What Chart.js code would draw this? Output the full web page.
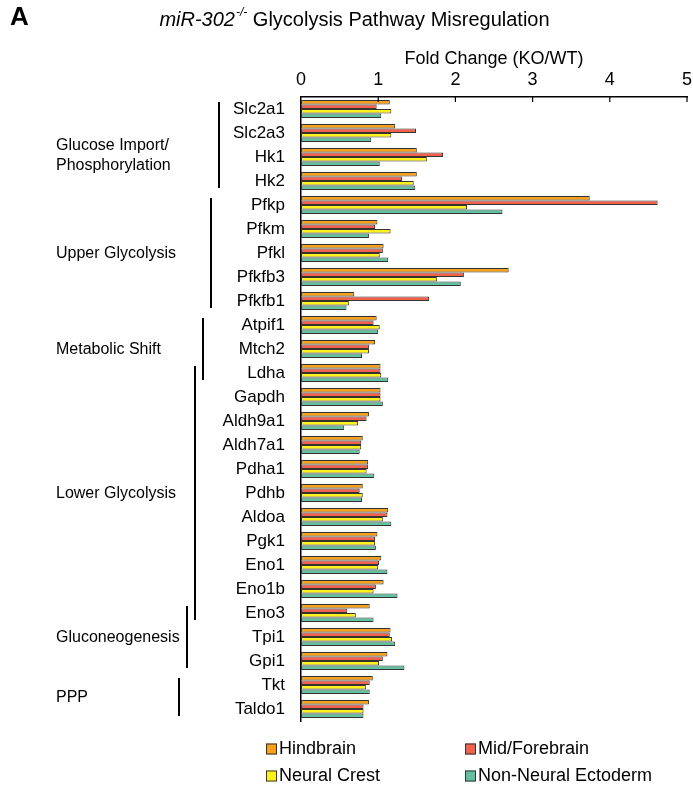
<!DOCTYPE html>
<html>
<head>
<meta charset="utf-8">
<script src="https://cdn.jsdelivr.net/npm/chart.js@4.4.0/dist/chart.umd.min.js"></script>
<style>
  html, body { margin: 0; padding: 0; background: #fff; }
  #wrap { width: 693px; height: 790px; }
</style>
</head>
<body>
<div id="wrap"><canvas id="myChart" width="693" height="790"></canvas></div>
<script>
// genes, top to bottom
const genes = ['Slc2a1', 'Slc2a3', 'Hk1', 'Hk2', 'Pfkp', 'Pfkm', 'Pfkl', 'Pfkfb3', 'Pfkfb1',
  'Atpif1', 'Mtch2', 'Ldha', 'Gapdh', 'Aldh9a1', 'Aldh7a1', 'Pdha1', 'Pdhb', 'Aldoa',
  'Pgk1', 'Eno1', 'Eno1b', 'Eno3', 'Tpi1', 'Gpi1', 'Tkt', 'Taldo1']

const hindbrain = [1.15, 1.22, 1.50, 1.50, 3.74, 0.99, 1.07, 2.69, 0.69,
  0.98, 0.96, 1.03, 1.03, 0.88, 0.80, 0.87, 0.80, 1.13,
  0.99, 1.04, 1.07, 0.89, 1.16, 1.12, 0.93, 0.88]
const midForebrain = [0.98, 1.49, 1.84, 1.31, 4.62, 0.96, 1.06, 2.11, 1.66,
  0.94, 0.88, 1.03, 1.03, 0.85, 0.78, 0.87, 0.76, 1.12,
  0.96, 1.01, 0.97, 0.60, 1.15, 1.06, 0.89, 0.81]
const neuralCrest = [1.17, 1.17, 1.63, 1.46, 2.15, 1.16, 1.02, 1.76, 0.62,
  1.02, 0.88, 1.04, 1.03, 0.74, 0.78, 0.85, 0.80, 1.06,
  0.96, 1.00, 0.94, 0.71, 1.18, 1.01, 0.84, 0.81]
const nonNeural = [1.04, 0.91, 1.02, 1.48, 2.61, 0.88, 1.13, 2.07, 0.59,
  1.00, 0.79, 1.13, 1.06, 0.56, 0.76, 0.95, 0.79, 1.17,
  0.97, 1.12, 1.25, 0.94, 1.22, 1.34, 0.89, 0.81]

const xTicks = [0, 1, 2, 3, 4, 5]

// pathway groups (first/last gene index)
const groupNames = [['Glucose Import/', 'Phosphorylation'], ['Upper Glycolysis'], ['Metabolic Shift'],
  ['Lower Glycolysis'], ['Gluconeogenesis'], ['PPP']]
const groupFirst = [0, 4, 9, 11, 21, 24]
const groupLast = [3, 8, 11, 21, 23, 25]

const FONT = "'Liberation Sans', Arial, sans-serif"

let decor = {
  id: 'decor',
  afterDraw(chart) {
    const ctx = chart.ctx
    const x = chart.scales.x
    const y = chart.scales.y
    const top = chart.chartArea.top
    ctx.save()
    ctx.fillStyle = '#000'
    ctx.strokeStyle = '#000'

    // inward tick marks on the top axis
    ctx.lineWidth = 1.2
    x.ticks.forEach(t => {
      if (t.value === 0) return
      let px = x.getPixelForValue(t.value)
      ctx.beginPath()
      ctx.moveTo(px, top)
      ctx.lineTo(px, top + 5)
      ctx.stroke()
    })

    // panel letter + title
    ctx.textBaseline = 'middle'
    ctx.textAlign = 'left'
    ctx.font = 'bold 26px ' + FONT
    ctx.fillText('A', 10, 18)

    let p1 = 'miR-302', p2 = '-/-', p3 = ' Glycolysis Pathway Misregulation'
    ctx.font = 'italic 20px ' + FONT
    let w1 = ctx.measureText(p1).width
    ctx.font = 'italic 12px ' + FONT
    let w2 = ctx.measureText(p2).width
    ctx.font = '20px ' + FONT
    let w3 = ctx.measureText(p3).width
    let sx = 354 - (w1 + w2 + w3) / 2
    ctx.font = 'italic 20px ' + FONT
    ctx.fillText(p1, sx, 20)
    ctx.font = 'italic 12px ' + FONT
    ctx.fillText(p2, sx + w1 + 1, 13)
    ctx.font = '20px ' + FONT
    ctx.fillText(p3, sx + w1 + w2 + 1, 20)

    // group brackets and labels
    ctx.font = '16px ' + FONT
    ctx.lineWidth = 2
    groupNames.forEach((name, i) => {
      let y0 = y.getPixelForValue(groupFirst[i])
      let y1 = y.getPixelForValue(groupLast[i])
      let bx = 219 - 8 * i
      ctx.beginPath()
      ctx.moveTo(bx, y0 - 7)
      ctx.lineTo(bx, y1 + 7)
      ctx.stroke()
      let ly = (y0 + y1) / 2
      name.forEach((line, j) => ctx.fillText(line, 56, ly + 1 + j * 20))
    })

    // legend, 2 columns
    ctx.font = '18px ' + FONT
    ctx.lineWidth = 1
    chart.data.datasets.forEach((ds, i) => {
      let lx = i % 2 === 0 ? 266 : 465
      let ly = i < 2 ? 749 : 776
      ctx.fillStyle = ds.backgroundColor
      ctx.fillRect(lx, ly - 5.5, 11, 11)
      ctx.strokeStyle = '#333'
      ctx.strokeRect(lx + 0.5, ly - 5, 10, 10)
      ctx.fillStyle = '#000'
      ctx.fillText(ds.label, lx + 13, ly)
    })
    ctx.restore()
  }
}

let plot = () => {
  const ctx = document.getElementById('myChart')
  const mk = (label, data, color) => ({
    label: label,
    data: data,
    backgroundColor: color,
    borderColor: '#333',
    borderWidth: 1,
    borderSkipped: false,
    categoryPercentage: 0.76,
    barPercentage: 1.0
  })
  const dataset = {
    labels: genes,
    datasets: [
      mk('Hindbrain', hindbrain, '#F7A01C'),
      mk('Mid/Forebrain', midForebrain, '#F2614B'),
      mk('Neural Crest', neuralCrest, '#FFF21C'),
      mk('Non-Neural Ectoderm', nonNeural, '#62C2A0')
    ]
  }
  const config = {
    type: 'bar',
    data: dataset,
    plugins: [decor],
    options: {
      indexAxis: 'y',
      responsive: false,
      animation: false,
      layout: { padding: { top: 40, left: 0, right: 6, bottom: 69 } },
      plugins: { legend: { display: false }, tooltip: { enabled: false } },
      scales: {
        x: {
          position: 'top',
          min: 0,
          max: 5,
          afterBuildTicks: (s) => { s.ticks = xTicks.map(v => ({ value: v })) },
          afterFit: (s) => { s.height = 57; s.paddingLeft = 0; s.paddingRight = 0 },
          ticks: { color: '#000', font: { family: FONT, size: 18 }, padding: 6 },
          grid: { display: false, drawTicks: false, tickLength: 0 },
          border: { display: true, color: '#000', width: 1.5 },
          title: {
            display: true, text: 'Fold Change (KO/WT)', color: '#000',
            font: { family: FONT, size: 18 }, padding: { top: 8, bottom: 0 }
          }
        },
        y: {
          afterFit: (s) => { s.width = 301 },
          ticks: { color: '#000', font: { family: FONT, size: 17 }, padding: 16, autoSkip: false },
          grid: { display: false, drawTicks: false, tickLength: 0 },
          border: { display: true, color: '#000', width: 1.5 }
        }
      }
    }
  }
  new Chart(ctx, config)
}

plot()
</script>
</body>
</html>
